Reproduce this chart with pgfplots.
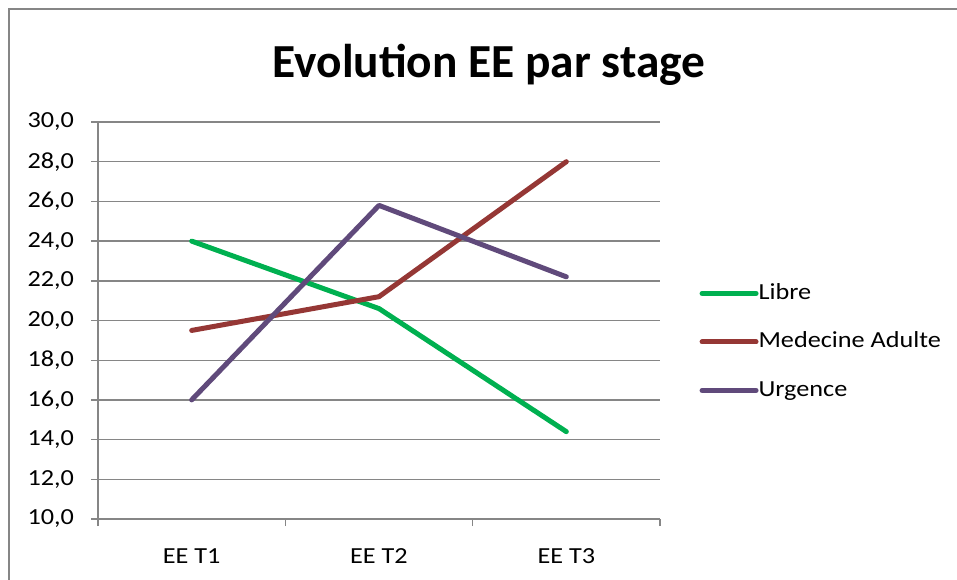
\documentclass[border=0pt]{standalone}
\usepackage{fontspec}
\setmainfont{Carlito}
\newfontfamily\smallfont[FakeStretch=1.14]{Carlito}
\usepackage{pgfplots}
\pgfplotsset{compat=1.18}

\definecolor{libre}{HTML}{00B050}
\definecolor{medad}{HTML}{953735}
\definecolor{urg}{HTML}{604A7B}
\definecolor{axgray}{HTML}{868686}

\begin{document}
\begin{tikzpicture}
% canvas: 1 px of the reference = 0.5pt
\useasboundingbox (0pt,0pt) rectangle (478.5pt,289.5pt);
\draw[axgray, line width=0.7pt] (4.5pt,-10pt) -- (4.5pt,285pt) -- (490pt,285pt);
\node[anchor=base, font=\fontsize{23.7}{28}\selectfont\bfseries] at (244.5pt,250.5pt) {Evolution EE par stage};
\begin{axis}[
    at={(49pt,30pt)}, anchor=south west,
    scale only axis,
    width=281pt, height=198.5pt,
    xmin=0, xmax=3, ymin=10, ymax=30,
    xtick={0,1,2,3},
    xticklabels={EE T1, EE T2, EE T3},
    x tick label as interval,
    ytick={10,12,...,30},
    axis x line*=bottom, axis y line*=left,
    axis line style={axgray, line width=0.7pt},
    tick style={axgray, line width=0.7pt},
    tick align=outside, major tick length=3.5pt,
    ymajorgrids, grid style={axgray, line width=0.7pt},
    ticklabel style={font=\smallfont\fontsize{11.5}{13}\selectfont},
    yticklabel style={xshift=-5pt},
    xticklabel style={yshift=-8pt},
    /pgf/number format/.cd, fixed, fixed zerofill, precision=1, use comma, assume math mode=true,
    /pgfplots/.cd,
    legend style={at={(1.059,0.446)}, anchor=west, draw=none, fill=none,
        font=\smallfont\fontsize{11.5}{13}\selectfont, row sep=13.25pt,
        nodes={inner sep=0pt, text height=8.5pt, text depth=2.5pt},
        /tikz/every even column/.append style={column sep=1pt}},
    legend cell align=left,
    legend image code/.code={\draw[#1, line cap=round] (0pt,0pt) -- (27pt,0pt);},
    every axis plot/.append style={line width=2.5pt, line join=round, line cap=round},
]
\addplot[libre] coordinates {(0.5,24.0) (1.5,20.6) (2.5,14.4)};
\addplot[medad] coordinates {(0.5,19.5) (1.5,21.2) (2.5,28.0)};
\addplot[urg] coordinates {(0.5,16.0) (1.5,25.8) (2.5,22.2)};
\legend{Libre, Medecine Adulte, Urgence}
\end{axis}
\end{tikzpicture}
\end{document}
